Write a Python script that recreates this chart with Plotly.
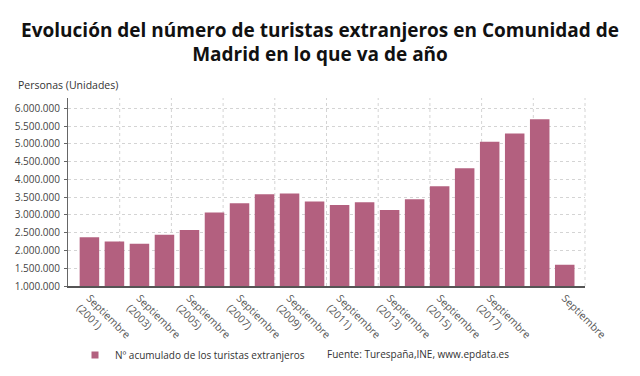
import plotly.graph_objects as go

years = list(range(2001, 2021))
categories = [f"Septiembre<br>({y})" for y in years[:-1]] + ["Septiembre"]
values = [2370000, 2250000, 2190000, 2445000, 2575000, 3070000, 3330000, 3580000,
          3600000, 3375000, 3280000, 3360000, 3140000, 3440000, 3810000, 4310000,
          5060000, 5290000, 5690000, 1600000]
tick_labels = [categories[i] for i in range(0, 17, 2)] + [categories[-1]]
series_name = "Nº acumulado de los turistas extranjeros"
y_ticks = [1000000 + 500000 * i for i in range(11)]

bar_color = "#b3607f"
font_family = "Open Sans, Noto Sans, sans-serif"

# the page body adds an 8px offset; figure coordinates are screen minus 8
OFF = 8
W, H = 640 - OFF, 376 - OFF
PLOT_L, PLOT_R = 68 - OFF, 585 - OFF
PLOT_TOP, PLOT_BOTTOM = 98 - OFF, 286.5 - OFF
PLOT_H = PLOT_BOTTOM - PLOT_TOP
PLOT_W = PLOT_R - PLOT_L

fig = go.Figure()
fig.add_trace(go.Bar(x=categories, y=values, name=series_name,
                     marker=dict(color=bar_color, line=dict(width=0)),
                     width=0.78, showlegend=False))
# legend entry (small square key)
fig.add_trace(go.Scatter(x=[None], y=[None], mode="markers", name=series_name,
                         marker=dict(symbol="square", size=7, color=bar_color),
                         showlegend=True))

shapes = []
for k in range(1, 11):
    shapes.append(dict(type="line", xref="x domain", yref="y domain",
                       x0=k / 10, x1=k / 10, y0=0, y1=1, layer="below",
                       line=dict(color="#d4d4d4", width=1, dash="dot")))

fig.update_layout(
    width=W, height=H,
    margin=dict(l=PLOT_L, r=W - PLOT_R, t=PLOT_TOP, b=H - PLOT_BOTTOM, autoexpand=False),
    paper_bgcolor="white", plot_bgcolor="white",
    separators=",.",
    font=dict(family=font_family, size=11, color="#555555"),
    title=dict(text="<b>Evolución del número de turistas extranjeros en Comunidad de<br>Madrid en lo que va de año</b>",
               x=(320 - OFF) / W, xanchor="center", yref="container",
               y=1 - 28.5 / H, yanchor="middle",
               font=dict(family=font_family, size=19, color="#111111")),
    shapes=shapes,
    xaxis=dict(type="category", categoryorder="array", categoryarray=categories,
               range=[-0.856, 19.81], tickmode="array", tickvals=tick_labels,
               ticktext=tick_labels, tickangle=45, showgrid=False, automargin=False,
               showline=True, linecolor="#555555", linewidth=2, ticks="",
               tickfont=dict(size=10.5, color="#555555")),
    yaxis=dict(range=[1000000, 6290000], tickvals=y_ticks, tickformat=",d",
               automargin=False,
               showgrid=True, gridcolor="#d4d4d4", griddash="dot", gridwidth=1,
               showline=True, linecolor="#666666", linewidth=1,
               ticks="outside", ticklen=3, tickcolor="#666666",
               ticklabelstandoff=2,
               zeroline=False, tickfont=dict(size=10, color="#444444")),
    legend=dict(orientation="h", xref="container", yref="container",
                x=(75 - OFF) / W, y=1 - (355 - OFF) / H, xanchor="left", yanchor="middle",
                font=dict(size=10, color="#333333"), itemwidth=30,
                bgcolor="rgba(0,0,0,0)"),
    annotations=[
        dict(text="Personas (Unidades)", xref="paper", yref="paper",
             x=(16 - 68) / PLOT_W, y=1.0, yanchor="bottom", xanchor="left", yshift=4,
             showarrow=False, font=dict(size=10.5, color="#333333")),
        dict(text="Fuente: Turespaña,INE, www.epdata.es", xref="paper", yref="paper",
             x=(325 - 68) / PLOT_W, y=(PLOT_BOTTOM - (355 - OFF)) / PLOT_H,
             xanchor="left", yanchor="middle",
             showarrow=False, font=dict(size=10, color="#333333")),
    ],
)

fig.write_html("out.html")
